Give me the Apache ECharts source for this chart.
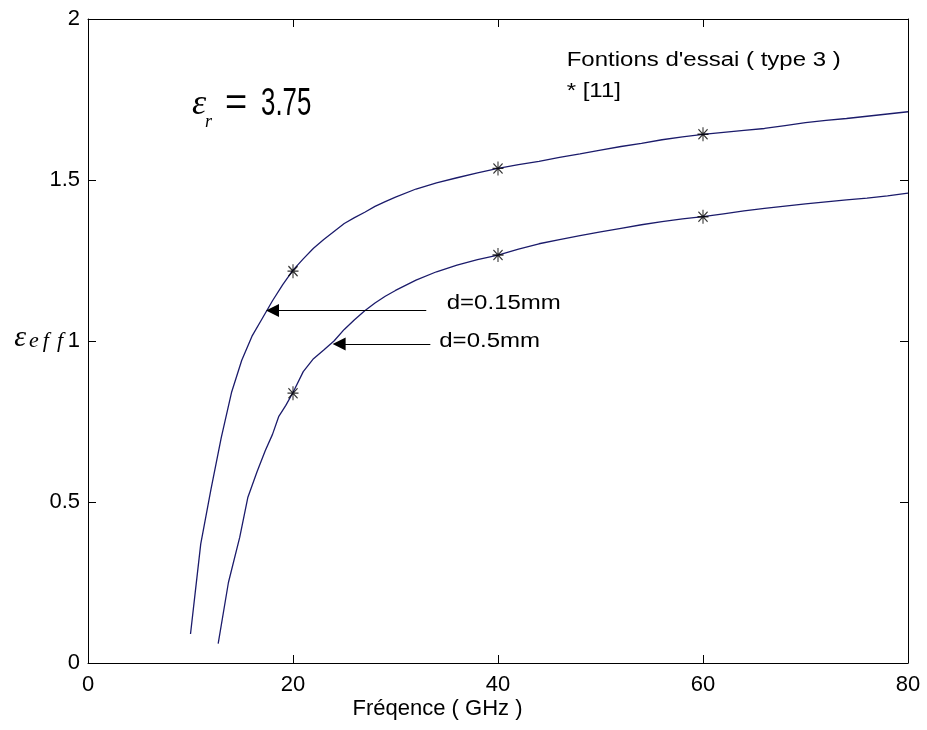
<!DOCTYPE html>
<html><head><meta charset="utf-8">
<script src="https://cdn.jsdelivr.net/npm/echarts@6/dist/echarts.min.js"></script>
<style>html,body{margin:0;padding:0;background:#fff}#c{width:927px;height:730px}</style>
</head><body><div id="c"></div>
<script>
// ---- data ----
const xTicks = [0, 20, 40, 60, 80];
const xTickLabels = ['0', '20', '40', '60', '80'];
const yTicks = [0, 0.5, 1, 1.5, 2];
const yTickLabels = ['0', '0.5', '1', '1.5', '2'];

// d = 0.15 mm (Fontions d'essai, type 3)
const freq1 = [10, 10.5, 11, 12, 13, 14, 15, 16, 17, 18, 19, 20, 21, 22, 23, 24, 25, 26, 27, 28, 29, 30,
  32, 34, 36, 38, 40, 42, 44, 46, 48, 50, 52, 54, 56, 58, 60, 62, 64, 66, 68, 70, 72, 74, 76, 78, 80];
const eps1 = [0.09, 0.23, 0.37, 0.54, 0.70, 0.84, 0.94, 1.015, 1.07, 1.125, 1.175, 1.22, 1.255, 1.288, 1.315, 1.34, 1.365, 1.383, 1.400, 1.418, 1.433, 1.447,
  1.472, 1.491, 1.507, 1.522, 1.536, 1.548, 1.558, 1.570, 1.581, 1.593, 1.604, 1.614, 1.625, 1.634, 1.642, 1.648, 1.654, 1.660, 1.669, 1.678, 1.685, 1.691, 1.698, 1.705, 1.712];

// d = 0.5 mm
const freq2 = [12.7, 13.7, 14.8, 15.6, 16.5, 17.3, 18, 18.6, 19.3, 20, 21, 22, 23, 24, 25, 26, 27, 28, 29, 30,
  32, 34, 36, 38, 40, 42, 44, 46, 48, 50, 52, 54, 56, 58, 60, 62, 64, 66, 68, 70, 72, 74, 76, 78, 80];
const eps2 = [0.06, 0.25, 0.39, 0.515, 0.595, 0.66, 0.71, 0.765, 0.80, 0.84, 0.905, 0.945, 0.972, 1.0, 1.036, 1.066, 1.094, 1.118, 1.139, 1.157,
  1.189, 1.215, 1.236, 1.253, 1.267, 1.285, 1.302, 1.315, 1.327, 1.339, 1.350, 1.361, 1.371, 1.379, 1.386, 1.395, 1.404, 1.412, 1.419, 1.426, 1.432, 1.438, 1.444, 1.451, 1.459];

// reference [11] points (asterisks)
const refFreq = [20, 40, 60];
const ref1 = [1.217, 1.536, 1.642];
const ref2 = [0.838, 1.267, 1.386];

// annotation anchors (data space); arrow head symbol is centred on the end point
const arrowFrom = [[33.0, 1.095], [33.4, 0.991]];
const arrowTo = [[18.0, 1.095], [24.5, 0.991]];
const noteTexts = ["Fontions d'essai ( type 3 )", "* [11]", "d=0.15mm", "d=0.5mm"];
const noteAt = [[46.7, 1.870], [46.7, 1.775], [35.0, 1.115], [34.27, 0.999]];
const epsRAt = [10.15, 1.693];

// ---- chart ----
const FONT = '"Liberation Sans", Arial, Helvetica, sans-serif';
const SERIF = '"Liberation Serif", "Times New Roman", serif';
const LINE = '#1b1b6b';
const chart = echarts.init(document.getElementById('c'), null, { renderer: 'canvas' });

const axisBase = {
  type: 'value',
  axisLine: { show: true, onZero: false, lineStyle: { color: '#000', width: 1 } },
  axisTick: { show: true, inside: true, length: 8, lineStyle: { color: '#000', width: 1 } },
  splitLine: { show: false },
  nameMoveOverlap: false
};
const zip = (a, b) => a.map((v, i) => [v, b[i]]);
const asterisk = 'path://M0,-7L0,7M-5,-5L5,5M-5,5L5,-5M-6,0L6,0';

const option = {
  animation: false,
  backgroundColor: '#fff',
  grid: { left: 88, right: 19, top: 19, bottom: 67, containLabel: false, outerBoundsMode: 'none' },
  xAxis: [
    Object.assign({}, axisBase, {
      min: 0, max: 80, interval: 20, position: 'bottom',
      axisLabel: { color: '#000', fontSize: 22, fontFamily: FONT, margin: 11,
        formatter: v => { const i = xTicks.indexOf(v); return i >= 0 ? xTickLabels[i] : ''; } },
      name: 'Fréqence ( GHz )', nameLocation: 'middle', nameGap: 35,
      nameTextStyle: { color: '#000', fontSize: 22, fontFamily: FONT, padding: [0, 121, 0, 0] }
    }),
    Object.assign({}, axisBase, { min: 0, max: 80, interval: 20, position: 'top', axisLabel: { show: false } })
  ],
  yAxis: [
    Object.assign({}, axisBase, {
      min: 0, max: 2, interval: 0.5, position: 'left',
      axisLabel: { color: '#000', fontSize: 22, fontFamily: FONT, margin: 8,
        formatter: v => { const i = yTicks.indexOf(v); return i >= 0 ? yTickLabels[i] : ''; } },
      name: '{a|ε}{e|e}{f1|f}{f2|f}', nameLocation: 'middle', nameRotate: 0, nameGap: 25,
      nameTextStyle: {
        color: '#000',
        rich: {
          a: { fontSize: 30, fontStyle: 'italic', fontFamily: SERIF, color: '#000', padding: [0, 3, 5, 0] },
          e: { fontSize: 22, fontStyle: 'italic', fontFamily: SERIF, color: '#000', padding: [0, 4, 0, 0] },
          f1: { fontSize: 22, fontStyle: 'italic', fontFamily: SERIF, color: '#000', padding: [0, 8, 0, 0] },
          f2: { fontSize: 22, fontStyle: 'italic', fontFamily: SERIF, color: '#000' }
        }
      }
    }),
    Object.assign({}, axisBase, { min: 0, max: 2, interval: 0.5, position: 'right', axisLabel: { show: false } })
  ],
  series: [
    { name: 'd=0.15mm', type: 'line', data: zip(freq1, eps1), showSymbol: false, symbol: 'none',
      lineStyle: { color: LINE, width: 1.3 }, z: 2 },
    { name: 'd=0.5mm', type: 'line', data: zip(freq2, eps2), showSymbol: false, symbol: 'none',
      lineStyle: { color: LINE, width: 1.3 }, z: 2 },
    { name: '[11]', type: 'scatter', data: zip(refFreq, ref1).concat(zip(refFreq, ref2)),
      symbol: asterisk, symbolSize: [11, 14],
      itemStyle: { color: 'rgba(0,0,0,0)', borderColor: '#000', borderWidth: 1.2 }, z: 3,
      markLine: {
        silent: true, animation: false, symbol: ['none', 'triangle'], symbolSize: 13,
        lineStyle: { color: '#000', width: 1, type: 'solid' },
        itemStyle: { color: '#000' },
        label: { show: false },
        data: arrowFrom.map((f, i) => [{ coord: f }, { coord: arrowTo[i] }])
      }
    }
  ]
};
chart.setOption(option);

// text annotations positioned through the grid's coordinate system
const P = c => chart.convertToPixel({ gridIndex: 0 }, c);
const graphics = noteTexts.map((t, i) => {
  const p = P(noteAt[i]);
  return { type: 'text', x: p[0], y: p[1], scaleX: 1.2, silent: true,
    style: { text: t, fill: '#000', font: '20px ' + FONT, align: 'left', verticalAlign: 'middle',
      textAlign: 'left', textVerticalAlign: 'middle' } };
});
const er = P(epsRAt);
graphics.push({
  type: 'group', x: er[0], y: er[1], silent: true,
  children: [
    { type: 'text', x: 0, y: -13, style: { text: 'ε', fill: '#000', font: 'italic 36px ' + SERIF, align: 'left', verticalAlign: 'middle', textAlign: 'left', textVerticalAlign: 'middle' } },
    { type: 'text', x: 13, y: 4, style: { text: 'r', fill: '#000', font: 'italic 18px ' + SERIF, align: 'left', verticalAlign: 'middle', textAlign: 'left', textVerticalAlign: 'middle' } },
    { type: 'text', x: 33, y: -13, style: { text: '=', fill: '#000', font: '38px ' + FONT, align: 'left', verticalAlign: 'middle', textAlign: 'left', textVerticalAlign: 'middle' } },
    { type: 'text', x: 69, y: -13, scaleX: 0.68, style: { text: '3.75', fill: '#000', font: '38px ' + FONT, align: 'left', verticalAlign: 'middle', textAlign: 'left', textVerticalAlign: 'middle' } }
  ]
});
chart.setOption({ graphic: graphics });
</script>
</body></html>
